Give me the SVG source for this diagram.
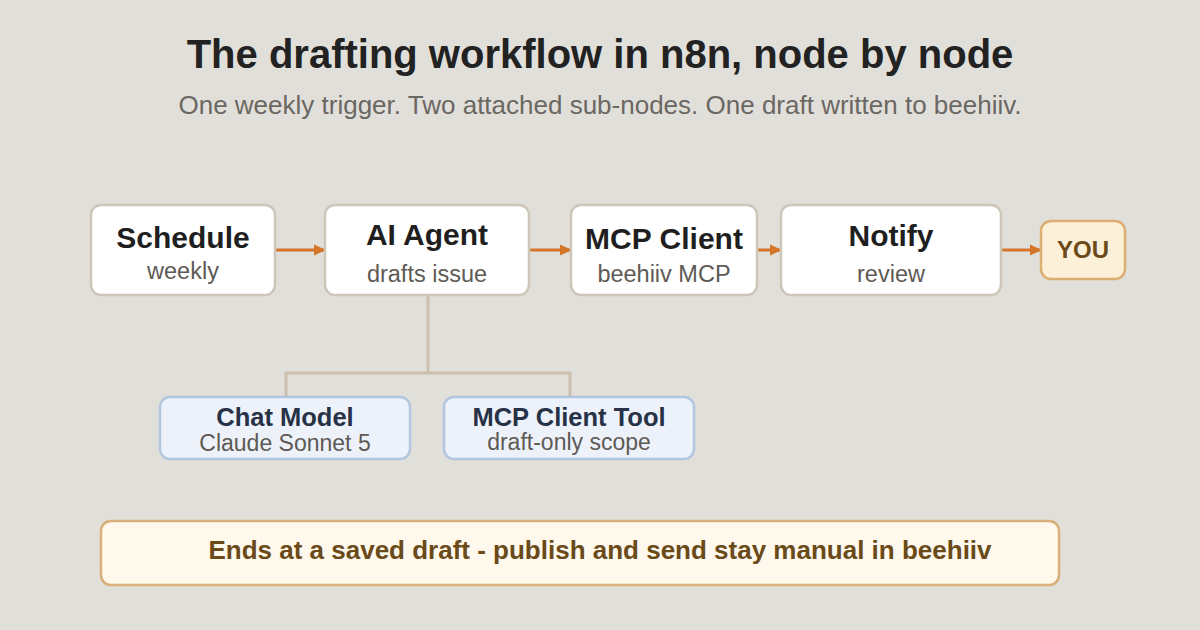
<svg xmlns="http://www.w3.org/2000/svg" width="1200" height="630" viewBox="0 0 1200 630">
<defs>
<marker id="ah" markerWidth="12" markerHeight="12" refX="11" refY="6" orient="auto" markerUnits="userSpaceOnUse">
<path d="M0,0.5 L12,6 L0,11.5 z" fill="#d4752a"/>
</marker>
<style>
text{font-family:"Liberation Sans",Arial,sans-serif;text-anchor:middle}
.node{fill:#ffffff;stroke:#cfc6ba;stroke-width:2.5}
.t{font-weight:bold;font-size:30px;fill:#1f1f1f}
.s{font-size:23.5px;fill:#5e5a55}
.sub{fill:#edf2fa;stroke:#b3c6e0;stroke-width:2.5}
.st{font-weight:bold;font-size:25.5px;fill:#273247}
.ss{font-size:23px;fill:#5e5a55}
.arr{stroke:#d4752a;stroke-width:3;fill:none}
.tree{stroke:#cbbfae;stroke-width:3;fill:none}
</style>
</defs>
<rect width="1200" height="630" fill="#e1dfda"/>
<text x="600" y="68" font-size="40" font-weight="bold" fill="#222">The drafting workflow in n8n, node by node</text>
<text x="600" y="114" font-size="26" fill="#6b6762">One weekly trigger. Two attached sub-nodes. One draft written to beehiiv.</text>
<g id="connectors">
<line class="arr" x1="276" y1="250" x2="325" y2="250" marker-end="url(#ah)"/>
<line class="arr" x1="530" y1="250" x2="571" y2="250" marker-end="url(#ah)"/>
<line class="arr" x1="758" y1="250" x2="781" y2="250" marker-end="url(#ah)"/>
<line class="arr" x1="1002" y1="250" x2="1041" y2="250" marker-end="url(#ah)"/>
<path class="tree" d="M428,296 V373 M286,397 V373 H570 V397"/>
</g>
<g id="schedule">
<rect class="node" x="91" y="205" width="184" height="90" rx="10"/>
<text class="t" x="183" y="248">Schedule</text>
<text class="s" x="183" y="279">weekly</text>
</g>
<g id="ai-agent">
<rect class="node" x="325" y="205" width="204" height="90" rx="10"/>
<text class="t" x="427" y="245">AI Agent</text>
<text class="s" x="427" y="282">drafts issue</text>
</g>
<g id="mcp-client">
<rect class="node" x="571" y="205" width="186" height="90" rx="10"/>
<text class="t" x="664" y="249">MCP Client</text>
<text class="s" x="664" y="282">beehiiv MCP</text>
</g>
<g id="notify">
<rect class="node" x="781" y="205" width="220" height="90" rx="10"/>
<text class="t" x="891" y="246">Notify</text>
<text class="s" x="891" y="282">review</text>
</g>
<g id="you">
<rect x="1041" y="221" width="84" height="58" rx="10" fill="#fdf0d8" stroke="#dcae72" stroke-width="2.5"/>
<text x="1083" y="258" font-size="24" font-weight="bold" fill="#6b4a1a">YOU</text>
</g>
<g id="chat-model">
<rect class="sub" x="160" y="397" width="250" height="62" rx="10"/>
<text class="st" x="285" y="426">Chat Model</text>
<text class="ss" x="285" y="451">Claude Sonnet 5</text>
</g>
<g id="mcp-client-tool">
<rect class="sub" x="444" y="397" width="250" height="62" rx="10"/>
<text class="st" x="569" y="426">MCP Client Tool</text>
<text class="ss" x="569" y="450">draft-only scope</text>
</g>
<g id="banner">
<rect x="101" y="521" width="958" height="64" rx="10" fill="#fef9ec" stroke="#d9b07a" stroke-width="2.5"/>
<text x="600" y="559" font-size="26" font-weight="bold" fill="#6b4a1a">Ends at a saved draft - publish and send stay manual in beehiiv</text>
</g>
</svg>
